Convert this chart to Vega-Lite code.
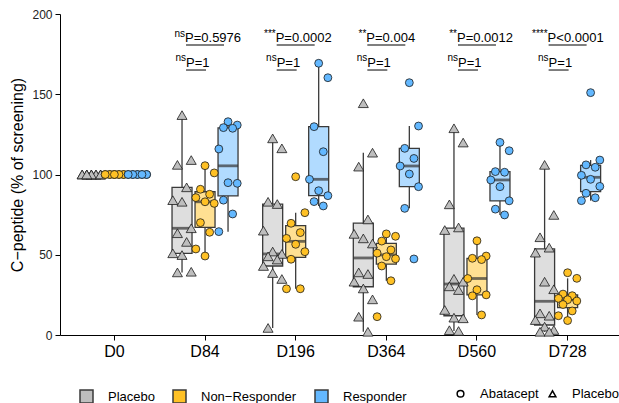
{
  "$schema": "https://vega.github.io/schema/vega-lite/v6.json",
  "width": 562,
  "height": 321,
  "autosize": {"type": "none"},
  "padding": {"left": 60, "top": 14, "right": 0, "bottom": 68},
  "background": "white",
  "config": {
    "font": "Liberation Sans",
    "view": {"stroke": null},
    "axis": {"grid": false, "domainColor": "#000", "tickColor": "#000", "labelColor": "#000", "titleColor": "#000", "labelFont": "Liberation Sans", "titleFont": "Liberation Sans", "titleFontWeight": "normal"},
    "legend": {"labelFont": "Liberation Sans", "labelColor": "#000"}
  },
  "datasets": {
    "pts": [
      {"d":"D0","g":"Placebo","t":"Placebo","v":100,"s":1},{"d":"D0","g":"Placebo","t":"Placebo","v":100,"s":2},{"d":"D0","g":"Placebo","t":"Placebo","v":100,"s":3},{"d":"D0","g":"Placebo","t":"Placebo","v":100,"s":4},{"d":"D0","g":"Placebo","t":"Placebo","v":100,"s":5},{"d":"D0","g":"Placebo","t":"Placebo","v":100,"s":6},{"d":"D0","g":"Placebo","t":"Placebo","v":100,"s":7},{"d":"D0","g":"Placebo","t":"Placebo","v":100,"s":8},{"d":"D0","g":"Placebo","t":"Placebo","v":100,"s":9},{"d":"D0","g":"Placebo","t":"Placebo","v":100,"s":10},{"d":"D0","g":"Placebo","t":"Placebo","v":100,"s":11},{"d":"D0","g":"Placebo","t":"Placebo","v":100,"s":12},{"d":"D0","g":"Placebo","t":"Placebo","v":100,"s":13},
      {"d":"D0","g":"Non−Responder","t":"Abatacept","v":100,"s":1},{"d":"D0","g":"Non−Responder","t":"Abatacept","v":100,"s":2},{"d":"D0","g":"Non−Responder","t":"Abatacept","v":100,"s":3},{"d":"D0","g":"Non−Responder","t":"Abatacept","v":100,"s":4},{"d":"D0","g":"Non−Responder","t":"Abatacept","v":100,"s":5},{"d":"D0","g":"Non−Responder","t":"Abatacept","v":100,"s":6},{"d":"D0","g":"Non−Responder","t":"Abatacept","v":100,"s":7},{"d":"D0","g":"Non−Responder","t":"Abatacept","v":100,"s":8},{"d":"D0","g":"Non−Responder","t":"Abatacept","v":100,"s":9},{"d":"D0","g":"Non−Responder","t":"Abatacept","v":100,"s":10},{"d":"D0","g":"Non−Responder","t":"Abatacept","v":100,"s":11},
      {"d":"D0","g":"Responder","t":"Abatacept","v":100,"s":1},{"d":"D0","g":"Responder","t":"Abatacept","v":100,"s":2},{"d":"D0","g":"Responder","t":"Abatacept","v":100,"s":3},{"d":"D0","g":"Responder","t":"Abatacept","v":100,"s":4},{"d":"D0","g":"Responder","t":"Abatacept","v":100,"s":5},{"d":"D0","g":"Responder","t":"Abatacept","v":100,"s":6},{"d":"D0","g":"Responder","t":"Abatacept","v":100,"s":7},{"d":"D0","g":"Responder","t":"Abatacept","v":100,"s":8},{"d":"D0","g":"Responder","t":"Abatacept","v":100,"s":9},{"d":"D0","g":"Responder","t":"Abatacept","v":100,"s":10},

      {"d":"D84","g":"Placebo","t":"Placebo","v":137,"s":1},{"d":"D84","g":"Placebo","t":"Placebo","v":109,"s":2},{"d":"D84","g":"Placebo","t":"Placebo","v":106,"s":3},{"d":"D84","g":"Placebo","t":"Placebo","v":92,"s":4},{"d":"D84","g":"Placebo","t":"Placebo","v":84,"s":5},{"d":"D84","g":"Placebo","t":"Placebo","v":83,"s":6},{"d":"D84","g":"Placebo","t":"Placebo","v":66.5,"s":7},{"d":"D84","g":"Placebo","t":"Placebo","v":63.4,"s":8},{"d":"D84","g":"Placebo","t":"Placebo","v":58,"s":9},{"d":"D84","g":"Placebo","t":"Placebo","v":50.9,"s":10},{"d":"D84","g":"Placebo","t":"Placebo","v":49.8,"s":11},{"d":"D84","g":"Placebo","t":"Placebo","v":39.4,"s":12},{"d":"D84","g":"Placebo","t":"Placebo","v":39,"s":13},
      {"d":"D84","g":"Non−Responder","t":"Abatacept","v":105.5,"s":1},{"d":"D84","g":"Non−Responder","t":"Abatacept","v":101,"s":2},{"d":"D84","g":"Non−Responder","t":"Abatacept","v":90.8,"s":3},{"d":"D84","g":"Non−Responder","t":"Abatacept","v":87.7,"s":4},{"d":"D84","g":"Non−Responder","t":"Abatacept","v":85.6,"s":5},{"d":"D84","g":"Non−Responder","t":"Abatacept","v":83,"s":6},{"d":"D84","g":"Non−Responder","t":"Abatacept","v":82,"s":7},{"d":"D84","g":"Non−Responder","t":"Abatacept","v":70,"s":8},{"d":"D84","g":"Non−Responder","t":"Abatacept","v":64,"s":9},{"d":"D84","g":"Non−Responder","t":"Abatacept","v":53.6,"s":10},{"d":"D84","g":"Non−Responder","t":"Abatacept","v":49.2,"s":11},
      {"d":"D84","g":"Responder","t":"Abatacept","v":132.9,"s":1},{"d":"D84","g":"Responder","t":"Abatacept","v":130.8,"s":2},{"d":"D84","g":"Responder","t":"Abatacept","v":129.2,"s":3},{"d":"D84","g":"Responder","t":"Abatacept","v":128.8,"s":4},{"d":"D84","g":"Responder","t":"Abatacept","v":115.9,"s":5},{"d":"D84","g":"Responder","t":"Abatacept","v":94.9,"s":6},{"d":"D84","g":"Responder","t":"Abatacept","v":94.5,"s":7},{"d":"D84","g":"Responder","t":"Abatacept","v":84,"s":8},{"d":"D84","g":"Responder","t":"Abatacept","v":75.4,"s":9},{"d":"D84","g":"Responder","t":"Abatacept","v":64.4,"s":10},

      {"d":"D196","g":"Placebo","t":"Placebo","v":122.5,"s":1},{"d":"D196","g":"Placebo","t":"Placebo","v":116.3,"s":2},{"d":"D196","g":"Placebo","t":"Placebo","v":83,"s":3},{"d":"D196","g":"Placebo","t":"Placebo","v":81.6,"s":4},{"d":"D196","g":"Placebo","t":"Placebo","v":65,"s":5},{"d":"D196","g":"Placebo","t":"Placebo","v":52,"s":6},{"d":"D196","g":"Placebo","t":"Placebo","v":50.5,"s":7},{"d":"D196","g":"Placebo","t":"Placebo","v":49,"s":8},{"d":"D196","g":"Placebo","t":"Placebo","v":47,"s":9},{"d":"D196","g":"Placebo","t":"Placebo","v":43,"s":10},{"d":"D196","g":"Placebo","t":"Placebo","v":38.6,"s":11},{"d":"D196","g":"Placebo","t":"Placebo","v":34.9,"s":12},{"d":"D196","g":"Placebo","t":"Placebo","v":4.4,"s":13},
      {"d":"D196","g":"Non−Responder","t":"Abatacept","v":98.6,"s":1},{"d":"D196","g":"Non−Responder","t":"Abatacept","v":76.2,"s":2},{"d":"D196","g":"Non−Responder","t":"Abatacept","v":69.6,"s":3},{"d":"D196","g":"Non−Responder","t":"Abatacept","v":63.8,"s":4},{"d":"D196","g":"Non−Responder","t":"Abatacept","v":60.2,"s":5},{"d":"D196","g":"Non−Responder","t":"Abatacept","v":56.5,"s":6},{"d":"D196","g":"Non−Responder","t":"Abatacept","v":51.9,"s":7},{"d":"D196","g":"Non−Responder","t":"Abatacept","v":47.2,"s":8},{"d":"D196","g":"Non−Responder","t":"Abatacept","v":28.8,"s":9},{"d":"D196","g":"Non−Responder","t":"Abatacept","v":28.8,"s":10},
      {"d":"D196","g":"Responder","t":"Abatacept","v":169.3,"s":1},{"d":"D196","g":"Responder","t":"Abatacept","v":160.3,"s":2},{"d":"D196","g":"Responder","t":"Abatacept","v":129.8,"s":3},{"d":"D196","g":"Responder","t":"Abatacept","v":114.2,"s":4},{"d":"D196","g":"Responder","t":"Abatacept","v":97,"s":5},{"d":"D196","g":"Responder","t":"Abatacept","v":89.9,"s":6},{"d":"D196","g":"Responder","t":"Abatacept","v":86.8,"s":7},{"d":"D196","g":"Responder","t":"Abatacept","v":83.1,"s":8},{"d":"D196","g":"Responder","t":"Abatacept","v":80.4,"s":9},

      {"d":"D364","g":"Placebo","t":"Placebo","v":144.4,"s":1},{"d":"D364","g":"Placebo","t":"Placebo","v":113.6,"s":2},{"d":"D364","g":"Placebo","t":"Placebo","v":104.9,"s":3},{"d":"D364","g":"Placebo","t":"Placebo","v":72,"s":4},{"d":"D364","g":"Placebo","t":"Placebo","v":63,"s":5},{"d":"D364","g":"Placebo","t":"Placebo","v":60.2,"s":6},{"d":"D364","g":"Placebo","t":"Placebo","v":57,"s":7},{"d":"D364","g":"Placebo","t":"Placebo","v":39,"s":8},{"d":"D364","g":"Placebo","t":"Placebo","v":38,"s":9},{"d":"D364","g":"Placebo","t":"Placebo","v":33.2,"s":10},{"d":"D364","g":"Placebo","t":"Placebo","v":29,"s":11},{"d":"D364","g":"Placebo","t":"Placebo","v":22.2,"s":12},{"d":"D364","g":"Placebo","t":"Placebo","v":11.4,"s":13},{"d":"D364","g":"Placebo","t":"Placebo","v":2,"s":14},
      {"d":"D364","g":"Non−Responder","t":"Abatacept","v":63,"s":1},{"d":"D364","g":"Non−Responder","t":"Abatacept","v":61.5,"s":2},{"d":"D364","g":"Non−Responder","t":"Abatacept","v":58.5,"s":3},{"d":"D364","g":"Non−Responder","t":"Abatacept","v":53,"s":4},{"d":"D364","g":"Non−Responder","t":"Abatacept","v":51,"s":5},{"d":"D364","g":"Non−Responder","t":"Abatacept","v":48.8,"s":6},{"d":"D364","g":"Non−Responder","t":"Abatacept","v":47.5,"s":7},{"d":"D364","g":"Non−Responder","t":"Abatacept","v":43,"s":8},{"d":"D364","g":"Non−Responder","t":"Abatacept","v":33.8,"s":9},{"d":"D364","g":"Non−Responder","t":"Abatacept","v":11.4,"s":10},
      {"d":"D364","g":"Responder","t":"Abatacept","v":157.2,"s":1},{"d":"D364","g":"Responder","t":"Abatacept","v":130.2,"s":2},{"d":"D364","g":"Responder","t":"Abatacept","v":116.3,"s":3},{"d":"D364","g":"Responder","t":"Abatacept","v":110,"s":4},{"d":"D364","g":"Responder","t":"Abatacept","v":105.3,"s":5},{"d":"D364","g":"Responder","t":"Abatacept","v":100.3,"s":6},{"d":"D364","g":"Responder","t":"Abatacept","v":92.4,"s":7},{"d":"D364","g":"Responder","t":"Abatacept","v":78.9,"s":8},{"d":"D364","g":"Responder","t":"Abatacept","v":47.4,"s":9},

      {"d":"D560","g":"Placebo","t":"Placebo","v":128.8,"s":1},{"d":"D560","g":"Placebo","t":"Placebo","v":119.9,"s":2},{"d":"D560","g":"Placebo","t":"Placebo","v":81.4,"s":3},{"d":"D560","g":"Placebo","t":"Placebo","v":67,"s":4},{"d":"D560","g":"Placebo","t":"Placebo","v":65.4,"s":5},{"d":"D560","g":"Placebo","t":"Placebo","v":35,"s":6},{"d":"D560","g":"Placebo","t":"Placebo","v":33.2,"s":7},{"d":"D560","g":"Placebo","t":"Placebo","v":30.3,"s":8},{"d":"D560","g":"Placebo","t":"Placebo","v":28,"s":9},{"d":"D560","g":"Placebo","t":"Placebo","v":15.6,"s":10},{"d":"D560","g":"Placebo","t":"Placebo","v":10.8,"s":11},{"d":"D560","g":"Placebo","t":"Placebo","v":10.4,"s":12},{"d":"D560","g":"Placebo","t":"Placebo","v":3,"s":13},{"d":"D560","g":"Placebo","t":"Placebo","v":2.5,"s":14},
      {"d":"D560","g":"Non−Responder","t":"Abatacept","v":58.7,"s":1},{"d":"D560","g":"Non−Responder","t":"Abatacept","v":49.2,"s":2},{"d":"D560","g":"Non−Responder","t":"Abatacept","v":47.8,"s":3},{"d":"D560","g":"Non−Responder","t":"Abatacept","v":47,"s":4},{"d":"D560","g":"Non−Responder","t":"Abatacept","v":35.2,"s":5},{"d":"D560","g":"Non−Responder","t":"Abatacept","v":28.2,"s":6},{"d":"D560","g":"Non−Responder","t":"Abatacept","v":25,"s":7},{"d":"D560","g":"Non−Responder","t":"Abatacept","v":24.4,"s":8},{"d":"D560","g":"Non−Responder","t":"Abatacept","v":12.5,"s":9},
      {"d":"D560","g":"Responder","t":"Abatacept","v":120,"s":1},{"d":"D560","g":"Responder","t":"Abatacept","v":114.8,"s":2},{"d":"D560","g":"Responder","t":"Abatacept","v":101.8,"s":3},{"d":"D560","g":"Responder","t":"Abatacept","v":101.4,"s":4},{"d":"D560","g":"Responder","t":"Abatacept","v":96.6,"s":5},{"d":"D560","g":"Responder","t":"Abatacept","v":92.4,"s":6},{"d":"D560","g":"Responder","t":"Abatacept","v":83.6,"s":7},{"d":"D560","g":"Responder","t":"Abatacept","v":78.4,"s":8},{"d":"D560","g":"Responder","t":"Abatacept","v":74.8,"s":9},

      {"d":"D728","g":"Placebo","t":"Placebo","v":106,"s":1},{"d":"D728","g":"Placebo","t":"Placebo","v":74.8,"s":2},{"d":"D728","g":"Placebo","t":"Placebo","v":60.9,"s":3},{"d":"D728","g":"Placebo","t":"Placebo","v":54.4,"s":4},{"d":"D728","g":"Placebo","t":"Placebo","v":51.3,"s":5},{"d":"D728","g":"Placebo","t":"Placebo","v":33.2,"s":6},{"d":"D728","g":"Placebo","t":"Placebo","v":28.5,"s":7},{"d":"D728","g":"Placebo","t":"Placebo","v":13.5,"s":8},{"d":"D728","g":"Placebo","t":"Placebo","v":12,"s":9},{"d":"D728","g":"Placebo","t":"Placebo","v":9.3,"s":10},{"d":"D728","g":"Placebo","t":"Placebo","v":5.2,"s":11},{"d":"D728","g":"Placebo","t":"Placebo","v":3.1,"s":12},{"d":"D728","g":"Placebo","t":"Placebo","v":2,"s":13},{"d":"D728","g":"Placebo","t":"Placebo","v":2,"s":14},
      {"d":"D728","g":"Non−Responder","t":"Abatacept","v":38.8,"s":1},{"d":"D728","g":"Non−Responder","t":"Abatacept","v":35.3,"s":2},{"d":"D728","g":"Non−Responder","t":"Abatacept","v":25.5,"s":3},{"d":"D728","g":"Non−Responder","t":"Abatacept","v":24.5,"s":4},{"d":"D728","g":"Non−Responder","t":"Abatacept","v":22.8,"s":5},{"d":"D728","g":"Non−Responder","t":"Abatacept","v":22,"s":6},{"d":"D728","g":"Non−Responder","t":"Abatacept","v":21.2,"s":7},{"d":"D728","g":"Non−Responder","t":"Abatacept","v":19,"s":8},{"d":"D728","g":"Non−Responder","t":"Abatacept","v":15,"s":9},{"d":"D728","g":"Non−Responder","t":"Abatacept","v":12,"s":10},{"d":"D728","g":"Non−Responder","t":"Abatacept","v":9,"s":11},
      {"d":"D728","g":"Responder","t":"Abatacept","v":151,"s":1},{"d":"D728","g":"Responder","t":"Abatacept","v":109,"s":2},{"d":"D728","g":"Responder","t":"Abatacept","v":106,"s":3},{"d":"D728","g":"Responder","t":"Abatacept","v":104.5,"s":4},{"d":"D728","g":"Responder","t":"Abatacept","v":99.5,"s":5},{"d":"D728","g":"Responder","t":"Abatacept","v":97,"s":6},{"d":"D728","g":"Responder","t":"Abatacept","v":92.6,"s":7},{"d":"D728","g":"Responder","t":"Abatacept","v":88.3,"s":8},{"d":"D728","g":"Responder","t":"Abatacept","v":85.5,"s":9},{"d":"D728","g":"Responder","t":"Abatacept","v":83.7,"s":10}
    ],
    "ann": [
      {"d":"D84","s1":"ns","p1":"P=0.5976","s2":"ns","p2":"P=1"},
      {"d":"D196","s1":"***","p1":"P=0.0002","s2":"ns","p2":"P=1"},
      {"d":"D364","s1":"**","p1":"P=0.004","s2":"ns","p2":"P=1"},
      {"d":"D560","s1":"**","p1":"P=0.0012","s2":"ns","p2":"P=1"},
      {"d":"D728","s1":"****","p1":"P<0.0001","s2":"ns","p2":"P=1"}
    ]
  },
  "encoding": {
    "x": {"field": "d", "type": "nominal",
      "scale": {"domain": ["D0","D84","D196","D364","D560","D728"], "paddingInner": 0, "paddingOuter": 0.1},
      "axis": {"title": null, "labelFontSize": 16, "labelAngle": 0, "tickSize": 5, "labelPadding": 3, "domainWidth": 1, "tickWidth": 1, "labelColor": "#000"}}
  },
  "layer": [
    {
      "data": {"name": "pts"},
      "transform": [{"calculate": "(datum.g === 'Placebo' ? 'P' : (datum.g === 'Responder' ? 'R' : 'N')) + '2'", "as": "bslot"}],
      "mark": {"type": "boxplot", "extent": 1.5, "outliers": false, "size": 20, "ticks": false,
        "box": {"stroke": "#3a3a3a", "strokeWidth": 1.3, "fillOpacity": 0.5},
        "median": {"color": "#333333", "thickness": 2.8},
        "rule": {"color": "#3a3a3a", "strokeWidth": 1.3}},
      "encoding": {
        "xOffset": {"field": "bslot", "type": "nominal", "scale": {"domain": ["a","b","P0","P1","P2","P3","P4","N0","N1","N2","N3","N4","R0","R1","R2","R3","R4","c","e"], "paddingInner": 0, "paddingOuter": 0.35}},
        "y": {"field": "v", "type": "quantitative",
          "scale": {"domain": [0, 200], "nice": false},
          "axis": {"title": "C−peptide (% of screening)", "values": [0, 50, 100, 150, 200], "labelFontSize": 12, "titleFontSize": 16, "tickSize": 5, "labelPadding": 3, "titlePadding": 6, "domainWidth": 1, "titleColor": "#000000", "labelColor": "#222222"}},
        "color": {"field": "g", "type": "nominal",
          "scale": {"domain": ["Placebo","Non−Responder","Responder"], "range": ["#BEBEBE","#FFC125","#63B8FF"]},
          "legend": {"title": null, "orient": "none", "legendX": 19, "legendY": 375, "direction": "horizontal", "symbolType": "square", "symbolSize": 169, "labelFontSize": 13, "labelOffset": 14, "columnPadding": 15,
            "encode": {"symbols": {"update": {"fillOpacity": {"value": 1}, "opacity": {"value": 1}, "stroke": {"value": "#333333"}, "strokeWidth": {"value": 1}, "shape": {"value": "square"}}}}}
        }
      }
    },
    {
      "data": {"name": "pts"},
      "transform": [
        {"filter": "datum.t === 'Placebo'"},
        {"calculate": "(datum.g === 'Placebo' ? 'P' : (datum.g === 'Responder' ? 'R' : 'N')) + ((datum.s * 2) % 5)", "as": "slot"}
      ],
      "mark": {"type": "point", "filled": true, "opacity": 1, "stroke": "#1a1a1a", "strokeWidth": 0.8, "size": 100},
      "encoding": {
        "xOffset": {"field": "slot", "type": "nominal", "scale": {"domain": ["a","b","P0","P1","P2","P3","P4","N0","N1","N2","N3","N4","R0","R1","R2","R3","R4","c","e"], "paddingInner": 0, "paddingOuter": 0.35}},
        "y": {"field": "v", "type": "quantitative"},
        "color": {"field": "g", "type": "nominal"},
        "shape": {"field": "t", "type": "nominal",
          "scale": {"domain": ["Abatacept","Placebo"], "range": ["circle","triangle-up"]},
          "legend": {"title": null, "orient": "none", "legendX": 394, "legendY": 373, "direction": "horizontal", "symbolSize": 45, "labelFontSize": 13, "labelOffset": 13, "columnPadding": 7,
            "symbolFillColor": "transparent", "symbolStrokeColor": "#000000",
            "encode": {"symbols": {"update": {"fill": {"value": "transparent"}, "fillOpacity": {"value": 0}, "stroke": {"value": "#000000"}, "strokeWidth": {"value": 0.8}}}}}}
      }
    },
    {
      "data": {"name": "pts"},
      "transform": [
        {"filter": "datum.t === 'Abatacept'"},
        {"calculate": "(datum.g === 'Placebo' ? 'P' : (datum.g === 'Responder' ? 'R' : 'N')) + ((datum.s * 2) % 5)", "as": "slot"}
      ],
      "mark": {"type": "point", "filled": true, "opacity": 1, "stroke": "#1a1a1a", "strokeWidth": 0.8, "size": 62},
      "encoding": {
        "xOffset": {"field": "slot", "type": "nominal"},
        "y": {"field": "v", "type": "quantitative"},
        "color": {"field": "g", "type": "nominal"},
        "shape": {"field": "t", "type": "nominal"}
      }
    },
    {
      "data": {"name": "ann"},
      "mark": {"type": "text", "align": "left", "baseline": "alphabetic", "dx": -20, "fontSize": 13, "color": "#000"},
      "encoding": {"y": {"datum": 182.6, "type": "quantitative"}, "text": {"field": "p1"}}
    },
    {
      "data": {"name": "ann"},
      "mark": {"type": "text", "align": "right", "baseline": "alphabetic", "dx": -20, "fontSize": 10, "color": "#000"},
      "encoding": {"y": {"datum": 185.7, "type": "quantitative"}, "text": {"field": "s1"}}
    },
    {
      "data": {"name": "ann"},
      "mark": {"type": "tick", "orient": "horizontal", "size": 38, "thickness": 1, "color": "#000", "opacity": 1},
      "encoding": {"y": {"datum": 180.7, "type": "quantitative"}}
    },
    {
      "data": {"name": "ann"},
      "mark": {"type": "text", "align": "left", "baseline": "alphabetic", "dx": -19, "fontSize": 13, "color": "#000"},
      "encoding": {"y": {"datum": 167.2, "type": "quantitative"}, "text": {"field": "p2"}}
    },
    {
      "data": {"name": "ann"},
      "mark": {"type": "text", "align": "right", "baseline": "alphabetic", "dx": -19, "fontSize": 10, "color": "#000"},
      "encoding": {"y": {"datum": 170.7, "type": "quantitative"}, "text": {"field": "s2"}}
    },
    {
      "data": {"name": "ann"},
      "mark": {"type": "tick", "orient": "horizontal", "size": 20, "thickness": 1, "color": "#000", "opacity": 1, "xOffset": -9},
      "encoding": {"y": {"datum": 165.1, "type": "quantitative"}}
    }
  ]
}
